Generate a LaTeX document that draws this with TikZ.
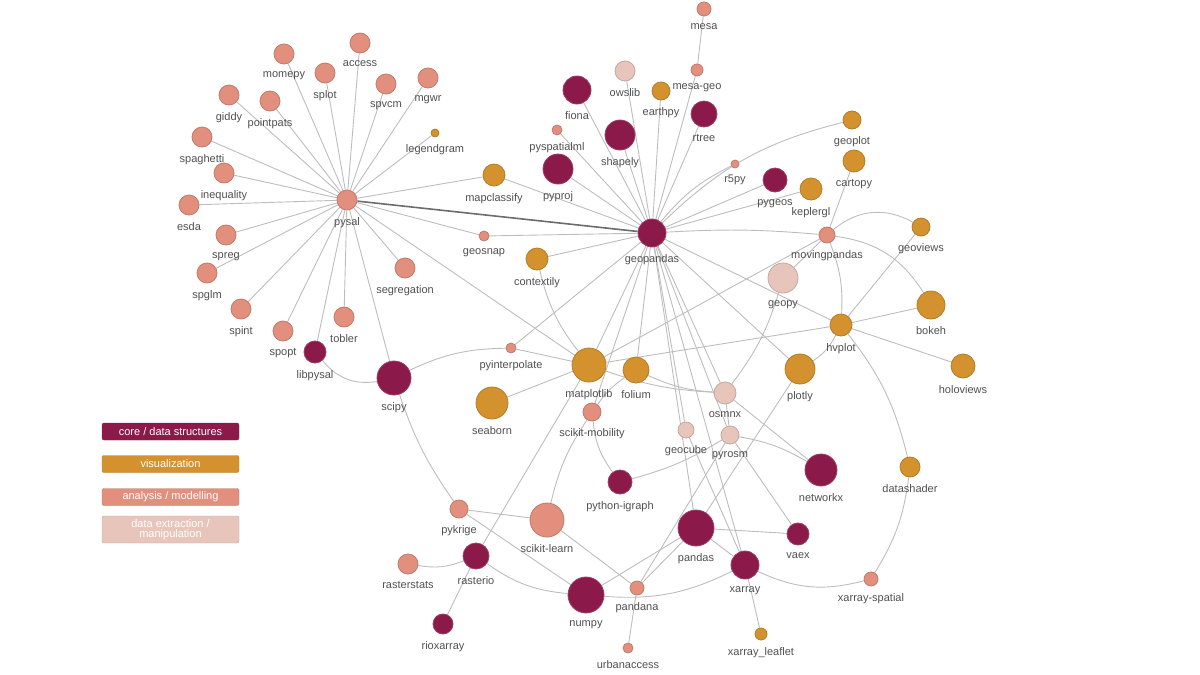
\documentclass[tikz,border=0pt]{standalone}
\usepackage{fontspec}
\setmainfont{Liberation Sans}
\usetikzlibrary{backgrounds}
\definecolor{core}{HTML}{8B1A4B}
\definecolor{viz}{HTML}{D4922E}
\definecolor{ana}{HTML}{E38F7E}
\definecolor{ext}{HTML}{E8C5BB}
\definecolor{lblc}{HTML}{505050}
\definecolor{edgec}{HTML}{BDBDBD}
\tikzset{
  pkg/.style={circle,inner sep=0pt,line width=0.8pt},
  core/.style={pkg,fill=core,draw=core!85!white},
  viz/.style={pkg,fill=viz,draw=viz!85!black},
  ana/.style={pkg,fill=ana,draw=ana!85!black},
  ext/.style={pkg,fill=ext,draw=ext!85!black},
  lbl/.style={text=lblc,font=\fontsize{11}{12}\selectfont,inner sep=1pt},
  edge/.style={draw=edgec,line width=0.9pt},
  legbox/.style={rounded corners=2pt,minimum width=137pt,minimum height=17pt,text=white,font=\fontsize{11}{11}\selectfont,inner sep=0pt,align=center}
}
\newcommand{\pk}[6]{\node[#5,minimum size=#4*2pt,label={[lbl,label distance=5.5pt]below:#6}] (#1) at (#2,#3) {};}
\begin{document}
\begin{tikzpicture}[x=1pt,y=-1pt]
\useasboundingbox (0,0) rectangle (1200,675);
\pk{mesa}{704}{9}{7}{ana}{mesa}
\pk{mesageo}{697}{70}{6}{ana}{mesa-geo}
\pk{owslib}{625}{71}{10}{ext}{owslib}
\pk{earthpy}{661}{91}{9}{viz}{earthpy}
\pk{fiona}{577}{90}{14}{core}{fiona}
\pk{rtree}{704}{114}{13}{core}{rtree}
\pk{shapely}{620}{135}{15}{core}{shapely}
\pk{pyspatialml}{557}{130}{5}{ana}{pyspatialml}
\pk{pyproj}{558}{169}{15}{core}{pyproj}
\pk{geoplot}{852}{120}{9}{viz}{geoplot}
\pk{cartopy}{854}{161}{11}{viz}{cartopy}
\pk{r5py}{735}{164}{4}{ana}{r5py}
\pk{pygeos}{775}{180}{12}{core}{pygeos}
\pk{keplergl}{811}{189}{11}{viz}{keplergl}
\pk{geopandas}{652}{233}{14}{core}{geopandas}
\pk{mapclassify}{494}{175}{11}{viz}{mapclassify}
\pk{geosnap}{484}{236}{5}{ana}{geosnap}
\pk{contextily}{537}{259}{11}{viz}{contextily}
\pk{movingpandas}{827}{235}{8}{ana}{movingpandas}
\pk{geoviews}{921}{227}{9}{viz}{geoviews}
\pk{geopy}{783}{278}{15}{ext}{geopy}
\pk{bokeh}{931}{305}{14}{viz}{bokeh}
\pk{hvplot}{841}{325}{11}{viz}{hvplot}
\pk{holoviews}{963}{366}{12}{viz}{holoviews}
\pk{pysal}{347}{200}{10}{ana}{pysal}
\pk{momepy}{284}{54}{10}{ana}{momepy}
\pk{access}{360}{43}{10}{ana}{access}
\pk{splot}{325}{73}{10}{ana}{splot}
\pk{spvcm}{386}{84}{10}{ana}{spvcm}
\pk{mgwr}{428}{78}{10}{ana}{mgwr}
\pk{giddy}{229}{95}{10}{ana}{giddy}
\pk{pointpats}{270}{101}{10}{ana}{pointpats}
\pk{legendgram}{435}{133}{4}{viz}{legendgram}
\pk{spaghetti}{202}{137}{10}{ana}{spaghetti}
\pk{inequality}{224}{173}{10}{ana}{inequality}
\pk{esda}{189}{205}{10}{ana}{esda}
\pk{spreg}{226}{235}{10}{ana}{spreg}
\pk{spglm}{207}{273}{10}{ana}{spglm}
\pk{spint}{241}{309}{10}{ana}{spint}
\pk{spopt}{283}{331}{10}{ana}{spopt}
\pk{tobler}{344}{317}{10}{ana}{tobler}
\pk{segregation}{405}{268}{10}{ana}{segregation}
\pk{libpysal}{315}{352}{11}{core}{libpysal}
\pk{scipy}{394}{378}{17}{core}{scipy}
\pk{pyinterpolate}{511}{348}{5}{ana}{pyinterpolate}
\pk{matplotlib}{589}{365}{17}{viz}{matplotlib}
\pk{folium}{636}{370}{13}{viz}{folium}
\pk{seaborn}{492}{403}{16}{viz}{seaborn}
\pk{osmnx}{725}{393}{11}{ext}{osmnx}
\pk{plotly}{800}{369}{15}{viz}{plotly}
\pk{scikitmobility}{592}{412}{9}{ana}{scikit-mobility}
\pk{geocube}{686}{430}{8}{ext}{geocube}
\pk{pyrosm}{730}{435}{9}{ext}{pyrosm}
\pk{networkx}{821}{470}{16}{core}{networkx}
\pk{datashader}{910}{467}{10}{viz}{datashader}
\pk{igraph}{620}{482}{12}{core}{python-igraph}
\pk{pykrige}{459}{509}{9}{ana}{pykrige}
\pk{sklearn}{547}{520}{17}{ana}{scikit-learn}
\pk{pandas}{696}{528}{18}{core}{pandas}
\pk{vaex}{798}{534}{11}{core}{vaex}
\pk{rasterstats}{408}{564}{10}{ana}{rasterstats}
\pk{rasterio}{476}{556}{13}{core}{rasterio}
\pk{numpy}{586}{595}{18}{core}{numpy}
\pk{pandana}{637}{588}{7}{ana}{pandana}
\pk{xarray}{745}{565}{14}{core}{xarray}
\pk{xspatial}{871}{579}{7}{ana}{xarray-spatial}
\pk{rioxarray}{443}{624}{10}{core}{rioxarray}
\pk{urbanaccess}{628}{648}{5}{ana}{urbanaccess}
\pk{xleaf}{761}{634}{6}{viz}{xarray\_leaflet}
\begin{scope}[on background layer]
\foreach \t in {momepy,access,splot,spvcm,mgwr,giddy,pointpats,legendgram,spaghetti,inequality,esda,spreg,spglm,spint,spopt,tobler,segregation,libpysal,scipy,mapclassify,geosnap,matplotlib}
  \draw[edge] (pysal) -- (\t);
\draw[draw=gray!85!black,line width=1.6pt] (pysal) -- (geopandas);
\foreach \t in {fiona,owslib,earthpy,mesageo,rtree,shapely,pyspatialml,pyproj,pygeos,keplergl,mapclassify,geosnap,contextily,pyinterpolate,matplotlib,folium,osmnx,plotly,hvplot,scikitmobility,geocube,pandas,xarray,pyrosm}
  \draw[edge] (geopandas) -- (\t);
\draw[edge] (geopandas) to[bend left=15] (geoplot);
\draw[edge] (geopandas) to[bend left=12] (r5py);
\draw[edge] (geopandas) to[bend left=4] (movingpandas);
\draw[edge] (mesa) -- (mesageo);
\draw[edge] (movingpandas) -- (cartopy);
\draw[edge] (movingpandas) to[bend left=35] (geoviews);
\draw[edge] (movingpandas) to[bend left=25] (bokeh);
\draw[edge] (movingpandas) to[bend left=12] (hvplot);
\draw[edge] (movingpandas) -- (geopy);
\draw[edge] (movingpandas) -- (matplotlib);
\draw[edge] (hvplot) -- (geoviews);
\draw[edge] (hvplot) -- (bokeh);
\draw[edge] (hvplot) -- (holoviews);
\draw[edge] (hvplot) -- (matplotlib);
\draw[edge] (hvplot) to[bend left=12] (datashader);
\draw[edge] (hvplot) to[bend left=15] (plotly);
\draw[edge] (geopy) to[bend left=10] (osmnx);
\draw[edge] (contextily) to[bend right=12] (matplotlib);
\draw[edge] (seaborn) -- (matplotlib);
\draw[edge] (pyinterpolate) -- (matplotlib);
\draw[edge] (scipy) to[bend left=12] (pyinterpolate);
\draw[edge] (libpysal) to[bend right=30] (scipy);
\draw[edge] (scipy) to[bend right=8] (pykrige);
\draw[edge] (matplotlib) to[bend right=8] (osmnx);
\draw[edge] (folium) to[bend right=10] (osmnx);
\draw[edge] (folium) to[bend right=10] (scikitmobility);
\draw[edge] (matplotlib) -- (rasterio);
\draw[edge] (osmnx) -- (networkx);
\draw[edge] (osmnx) -- (pyrosm);
\draw[edge] (plotly) -- (pandas);
\draw[edge] (pyrosm) to[bend left=10] (networkx);
\draw[edge] (pyrosm) to[bend left=8] (igraph);
\draw[edge] (pyrosm) -- (pandana);
\draw[edge] (pyrosm) -- (vaex);
\draw[edge] (scikitmobility) to[bend right=15] (igraph);
\draw[edge] (scikitmobility) to[bend right=10] (sklearn);
\draw[edge] (geocube) -- (xarray);
\draw[edge] (pykrige) -- (sklearn);
\draw[edge] (pykrige) -- (numpy);
\draw[edge] (sklearn) -- (pandana);
\draw[edge] (rasterstats) to[bend right=15] (rasterio);
\draw[edge] (rasterio) -- (rioxarray);
\draw[edge] (rasterio) to[bend right=15] (numpy);
\draw[edge] (numpy) -- (pandas);
\draw[edge] (numpy) to[bend right=15] (xarray);
\draw[edge] (pandas) -- (vaex);
\draw[edge] (pandas) -- (xarray);
\draw[edge] (pandas) -- (pandana);
\draw[edge] (pandana) -- (urbanaccess);
\draw[edge] (xarray) -- (xleaf);
\draw[edge] (xarray) to[bend right=20] (xspatial);
\draw[edge] (datashader) to[bend left=12] (xspatial);
\end{scope}
\node[legbox,fill=core,draw=core] (l1) at (170.5,431.5) {core / data structures};
\node[legbox,fill=viz,draw=viz!85!black] (l2) at (170.5,464) {visualization};
\node[legbox,fill=ana,draw=ana!85!black] (l3) at (170.5,497) {analysis / modelling};
\node[legbox,fill=ext,draw=ext!85!black,minimum height=27pt,font=\fontsize{11}{10}\selectfont] (l4) at (170.5,529.5) {data extraction /\\manipulation};
\end{tikzpicture}
\end{document}
